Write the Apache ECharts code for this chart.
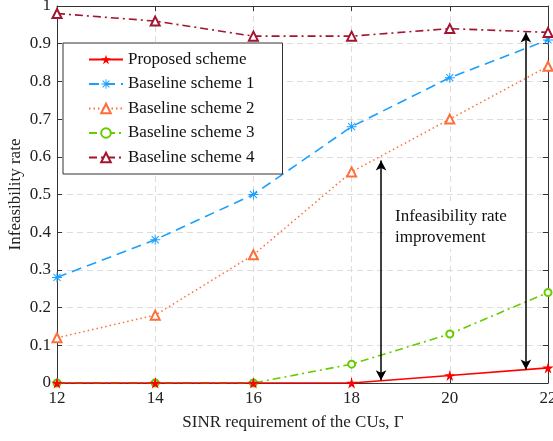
<!DOCTYPE html>
<html>
<head>
<meta charset="utf-8">
<script src="https://cdn.jsdelivr.net/npm/echarts@6/dist/echarts.min.js"></script>
<style>html,body{margin:0;padding:0;background:#fff}#c{width:553px;height:441px}</style>
</head>
<body>
<div id="c"></div>
<script>
var sinr = [12, 14, 16, 18, 20, 22];
var proposed = [0, 0, 0, 0, 0.02, 0.04];
var baseline1 = [0.28, 0.38, 0.50, 0.68, 0.81, 0.91];
var baseline2 = [0.12, 0.18, 0.34, 0.56, 0.70, 0.84];
var baseline3 = [0, 0, 0, 0.05, 0.13, 0.24];
var baseline4 = [0.98, 0.96, 0.92, 0.92, 0.94, 0.93];
var seriesNames = ['Proposed scheme', 'Baseline scheme 1', 'Baseline scheme 2', 'Baseline scheme 3', 'Baseline scheme 4'];
var arrow1 = [[18.6, 0.59], [18.6, 0.007]];
var arrow2 = [[21.55, 0.93], [21.55, 0.036]];
var annotationText = ['Infeasibility rate', 'improvement'];
var xLabel = 'SINR requirement of the CUs, \u0393';
var yLabel = 'Infeasibility rate';

var FONT = '"Liberation Serif", "Times New Roman", serif';
var starPath = 'path://M0,-10 L2.245,-3.09 L9.51,-3.09 L3.633,1.18 L5.88,8.09 L0,3.82 L-5.88,8.09 L-3.633,1.18 L-9.51,-3.09 L-2.245,-3.09 Z';
var asteriskPath = 'path://M-1,-10 L1,-10 L1,10 L-1,10 Z M-10,-1 L10,-1 L10,1 L-10,1 Z M-6.36,-7.78 L7.78,6.36 L6.36,7.78 L-7.78,-6.36 Z M6.36,-7.78 L7.78,-6.36 L-6.36,7.78 L-7.78,6.36 Z';

function pairs(ys) { return sinr.map(function (x, i) { return [x, ys[i]]; }); }

var colors = ['#ff0000', '#1a9fff', '#ff6e3a', '#66cc00', '#a2142f'];

var chart = echarts.init(document.getElementById('c'), null, {renderer: 'canvas'});
var axisColor = '#333';
var gridLine = {show: true, lineStyle: {color: '#dcdcdc', type: [6, 4], width: 1}};

var arrowLine = {
  silent: true,
  symbol: ['arrow', 'arrow'],
  symbolSize: [8, 10],
  label: {show: false},
  lineStyle: {color: '#000', type: 'solid', width: 1.5},
  data: [
    [{coord: arrow1[0]}, {coord: arrow1[1]}],
    [{coord: arrow2[0]}, {coord: arrow2[1]}]
  ]
};

chart.setOption({
  animation: false,
  backgroundColor: '#fff',
  textStyle: {fontFamily: FONT},
  grid: {left: 57, right: 5, top: 6, bottom: 58, containLabel: false, outerBoundsMode: 'none'},
  xAxis: [{
    type: 'value', min: 12, max: 22, interval: 2,
    axisLine: {show: true, lineStyle: {color: axisColor}},
    axisTick: {show: true, inside: true, length: 5, lineStyle: {color: axisColor}},
    axisLabel: {color: '#222', fontSize: 17, fontFamily: FONT, margin: 7},
    splitLine: gridLine,
    name: xLabel, nameLocation: 'middle', nameGap: 31,
    nameTextStyle: {color: '#222', fontSize: 17, fontFamily: FONT, padding: [0, 19, 0, 0]}
  }, {
    type: 'value', min: 12, max: 22, interval: 2, position: 'top',
    axisLine: {show: true, onZero: false, lineStyle: {color: axisColor}},
    axisTick: {show: true, inside: true, length: 5, lineStyle: {color: axisColor}},
    axisLabel: {show: false}, splitLine: {show: false}
  }],
  yAxis: [{
    type: 'value', min: 0, max: 1, interval: 0.1,
    axisLine: {show: true, lineStyle: {color: axisColor}},
    axisTick: {show: true, inside: true, length: 5, lineStyle: {color: axisColor}},
    axisLabel: {color: '#222', fontSize: 17, fontFamily: FONT, margin: 6,
      formatter: function (v) { return String(+v.toFixed(1)); }},
    splitLine: gridLine,
    name: yLabel, nameLocation: 'middle', nameGap: 33, nameMoveOverlap: false,
    nameTextStyle: {color: '#222', fontSize: 17, fontFamily: FONT}
  }, {
    type: 'value', min: 0, max: 1, interval: 0.1, position: 'right',
    axisLine: {show: true, onZero: false, lineStyle: {color: axisColor}},
    axisTick: {show: true, inside: true, length: 5, lineStyle: {color: axisColor}},
    axisLabel: {show: false}, splitLine: {show: false}
  }],
  legend: {
    orient: 'vertical', left: 63, top: 43,
    padding: [8, 28, 8, 25],
    itemWidth: 34, itemHeight: 12, itemGap: 7.5,
    backgroundColor: '#fff', borderColor: '#333', borderWidth: 1,
    textStyle: {color: '#111', fontSize: 17, fontFamily: FONT},
    data: seriesNames
  },
  graphic: [
    {type: 'rect', left: 384, top: 201, z: 50, shape: {width: 139, height: 48}, style: {fill: '#fff'}},
    {type: 'text', left: 395, top: 208, z: 51, style: {text: annotationText[0], fill: '#111', font: '17px ' + FONT}},
    {type: 'text', left: 395, top: 229, z: 51, style: {text: annotationText[1], fill: '#111', font: '17px ' + FONT}}
  ],
  series: [
    {name: seriesNames[0], type: 'line', data: pairs(proposed), symbol: starPath, symbolSize: 11,
      itemStyle: {color: colors[0]}, lineStyle: {color: colors[0], width: 1.6, type: 'solid'}, z: 3},
    {name: seriesNames[1], type: 'line', data: pairs(baseline1), symbol: asteriskPath, symbolSize: 10,
      itemStyle: {color: colors[1]}, lineStyle: {color: colors[1], width: 1.6, type: [10, 6]}, z: 2,
      markLine: arrowLine},
    {name: seriesNames[2], type: 'line', data: pairs(baseline2), symbol: 'emptyTriangle', symbolSize: 9,
      itemStyle: {color: colors[2], borderWidth: 1.5}, lineStyle: {color: colors[2], width: 1.5, type: [1.5, 3]}, z: 2},
    {name: seriesNames[3], type: 'line', data: pairs(baseline3), symbol: 'emptyCircle', symbolSize: 7,
      itemStyle: {color: colors[3], borderWidth: 1.5}, lineStyle: {color: colors[3], width: 1.6, type: [8, 4, 2, 4]}, z: 2},
    {name: seriesNames[4], type: 'line', data: pairs(baseline4), symbol: 'emptyTriangle', symbolSize: 9,
      itemStyle: {color: colors[4], borderWidth: 1.5}, lineStyle: {color: colors[4], width: 1.6, type: [8, 4, 2, 4]}, z: 2}
  ]
});
</script>
</body>
</html>
